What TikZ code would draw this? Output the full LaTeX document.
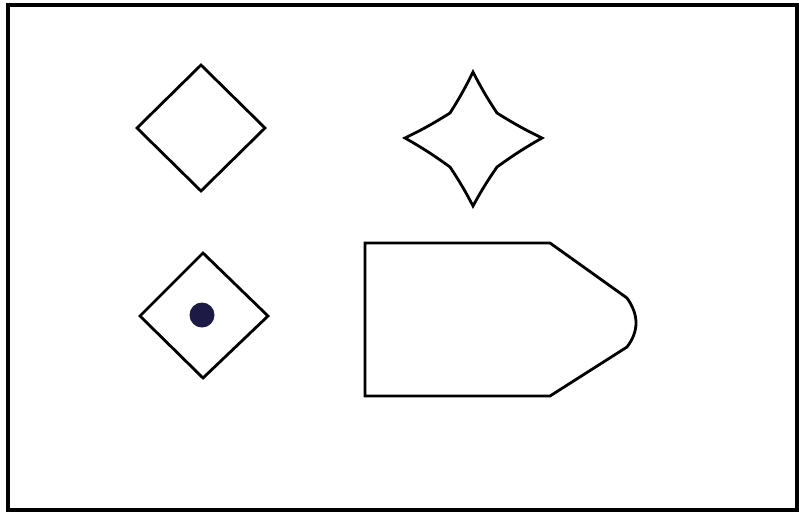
\documentclass[tikz,border=0pt]{standalone}
\usepackage{xcolor}
\definecolor{dotNavy}{RGB}{30, 26, 70}

\begin{document}
\begin{tikzpicture}[
    x=1pt, y=-1pt,
    outline/.style={draw=black, line width=2.8pt, line join=miter},
    frame/.style={draw=black, line width=3.5pt}
]

\useasboundingbox (0,0) rectangle (799,512);

% outer frame
\draw[frame] (8,5) rectangle (797,510);

% plain diamond
\draw[outline] (201,65) -- (265,128) -- (201,191) -- (137,128) -- cycle;

% four-pointed star
\draw[outline] (473,72) to[bend right=3] (497,113) to[bend right=3] (542,138)
    to[bend right=3] (497,167) to[bend right=3] (473,206)
    to[bend right=3] (450,167) to[bend right=3] (405,138)
    to[bend right=3] (450,113) to[bend right=3] cycle;

% diamond with dot
\draw[outline] (203,253) -- (268,316) -- (203,378) -- (140,316) -- cycle;
\fill[dotNavy] (202,315) circle (12.5);

% arrow-like tag
\draw[outline] (365,243) -- (550,243) -- (627,298)
    .. controls (639,315) and (639,331) .. (627,347)
    -- (550,396) -- (365,396) -- cycle;

\end{tikzpicture}
\end{document}
